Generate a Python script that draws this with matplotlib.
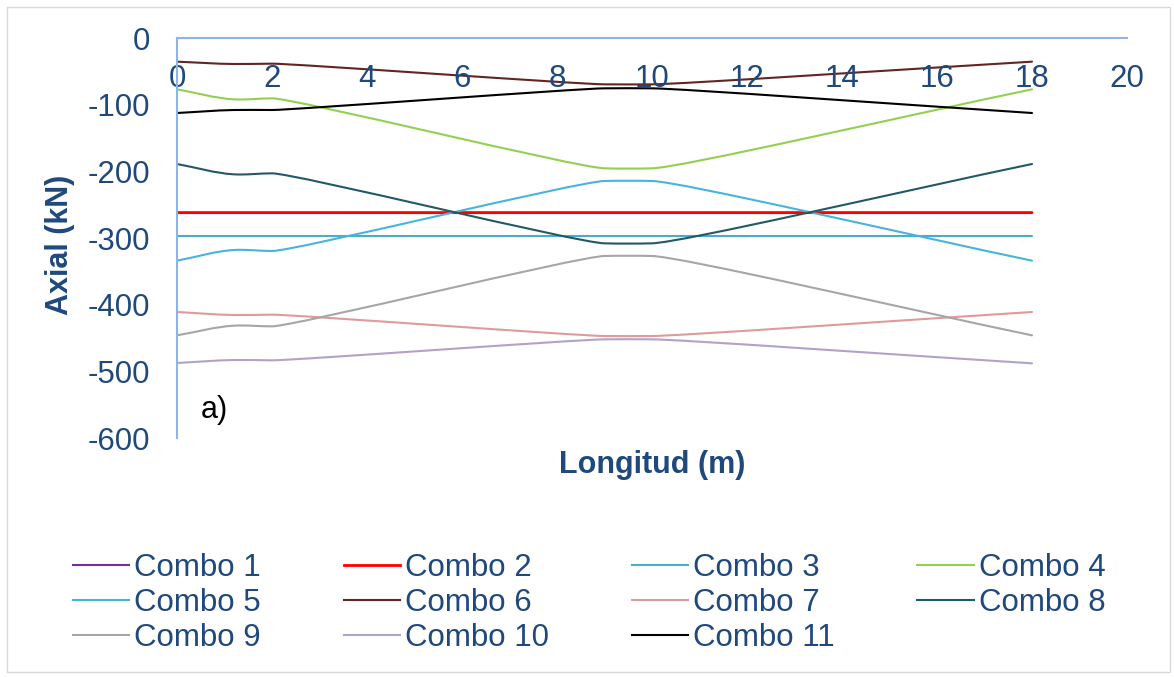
import numpy as np
import matplotlib
matplotlib.use('Agg')
import matplotlib.pyplot as plt
from matplotlib.path import Path
from matplotlib.patches import PathPatch, Rectangle
from matplotlib.lines import Line2D

plt.rcParams['font.family'] = ['Liberation Sans', 'DejaVu Sans']
plt.rcParams['axes.unicode_minus'] = False

# stations along the member (m)
x_pts = [0, 1.2, 2, 9, 10, 18]

# axial force per load combination (kN)
combo1 = [-262, -262, -262, -262, -262, -262]
combo2 = [-262, -262, -262, -262, -262, -262]
combo3 = [-297, -297, -297, -297, -297, -297]
combo4 = [-77, -92, -90.5, -195.5, -195.5, -77]
combo5 = [-334, -318, -319.5, -214.5, -214.5, -334]
combo6 = [-35.5, -39, -38.5, -69.5, -69.5, -35.5]
combo7 = [-411, -415.5, -415, -447, -447, -411]
combo8 = [-189, -204.5, -203, -308, -308, -189]
combo9 = [-446, -431.5, -432.5, -327, -327, -446]
combo10 = [-487.5, -483, -483.5, -452, -452, -488]
combo11 = [-112.5, -108, -108, -75.5, -75.5, -112.5]

series = [combo1, combo2, combo3, combo4, combo5, combo6,
          combo7, combo8, combo9, combo10, combo11]
names = ['Combo %d' % i for i in range(1, 12)]
colors = ['#7030A0', '#FF0000', '#4BACC6', '#92D050', '#46B5DC', '#632523',
          '#E09A9A', '#215968', '#A6A6A6', '#B3A2C7', '#000000']
widths = [1.5, 2.0, 1.5, 1.5, 1.5, 1.5, 1.5, 1.5, 1.5, 1.5, 1.5]

x_ticks = [0, 2, 4, 6, 8, 10, 12, 14, 16, 18, 20]
y_ticks = [0, -100, -200, -300, -400, -500, -600]

text_col = '#1F497D'
axis_col = '#8EB4E3'


def smooth_path(ax, xs, ys):
    # smoothed line like excel: bezier segments, tangent weighted to the
    # shorter neighbouring segment
    pts = ax.transData.transform(np.column_stack([xs, ys]))
    n = len(pts)
    lens = [np.hypot(*(pts[i + 1] - pts[i])) for i in range(n - 1)]
    tang = []
    for i in range(n):
        if i == 0:
            d = pts[1] - pts[0]
        elif i == n - 1:
            d = pts[-1] - pts[-2]
        else:
            a = pts[i] - pts[i - 1]
            b = pts[i + 1] - pts[i]
            la, lb = lens[i - 1], lens[i]
            d = a / la * lb + b / lb * la
        tang.append(d / np.hypot(*d))
    verts = [pts[0]]
    codes = [Path.MOVETO]
    for i in range(n - 1):
        p1, p2 = pts[i], pts[i + 1]
        seg = lens[i]
        before = lens[i - 1] if i > 0 else seg
        after = lens[i + 1] if i < n - 2 else seg
        h1 = min(seg / 3, 0.6 * before)
        h2 = min(seg / 3, 0.6 * after)
        verts += [p1 + tang[i] * h1, p2 - tang[i + 1] * h2, p2]
        codes += [Path.CURVE4] * 3
    verts = ax.transData.inverted().transform(np.array(verts))
    return Path(verts, codes)


fig = plt.figure(figsize=(11.74, 6.77), dpi=100)
ax = fig.add_axes([177 / 1174, 1 - 438 / 677, 950 / 1174, 400 / 677])
ax.set_xlim(0, 20)
ax.set_ylim(-600, 0)

for ys, c, lw in zip(series, colors, widths):
    p = smooth_path(ax, x_pts, ys)
    ax.add_patch(PathPatch(p, fill=False, edgecolor=c, lw=lw,
                           capstyle='round', joinstyle='round'))

# x axis sits on y = 0 (top of the plot), labels below it
ax.spines['bottom'].set_position(('data', 0))
ax.spines['bottom'].set_color(axis_col)
ax.spines['bottom'].set_linewidth(1.5)
ax.spines['left'].set_color(axis_col)
ax.spines['left'].set_linewidth(1.5)
ax.spines['top'].set_visible(False)
ax.spines['right'].set_visible(False)

ax.set_xticks(x_ticks)
ax.set_yticks(y_ticks)
ax.set_yticklabels([str(v) for v in y_ticks])
ax.tick_params(axis='both', length=0, labelsize=22.5, labelcolor=text_col)
ax.tick_params(axis='x', pad=19)
ax.tick_params(axis='y', pad=19)

ax.set_xlabel('Longitud (m)', fontsize=22, fontweight='bold', color=text_col)
ax.xaxis.label.set_va('center')
ax.xaxis.set_label_coords(0.5, -0.0675)
ax.set_ylabel('Axial (kN)', fontsize=22, fontweight='bold', color=text_col)
ax.yaxis.label.set_va('center')
ax.yaxis.set_label_coords(-0.123, 0.4825)

ax.text(0.5, -558, 'a)', fontsize=22, color='black', va='center', ha='left')

# legend, filled row by row like the original
handles = [Line2D([], [], color=c, lw=lw) for c, lw in zip(colors, widths)]
order = [0, 4, 8, 1, 5, 9, 2, 6, 10, 3, 7]
leg = fig.legend([handles[i] for i in order], [names[i] for i in order],
                 loc='upper left', bbox_to_anchor=(73 / 1174, 1 - 553 / 677),
                 ncol=4, frameon=False, fontsize=22.5, handlelength=1.8,
                 handletextpad=0.16, columnspacing=2.65, labelspacing=0.16,
                 borderpad=0, borderaxespad=0)
for t in leg.get_texts():
    t.set_color(text_col)

fig.patches.append(Rectangle((7 / 1174, 5 / 677), 1163 / 1174, 665 / 677,
                             transform=fig.transFigure, fill=False,
                             ec='#D9D9D9', lw=1))

fig.savefig('out.png', dpi=100, facecolor='white')
